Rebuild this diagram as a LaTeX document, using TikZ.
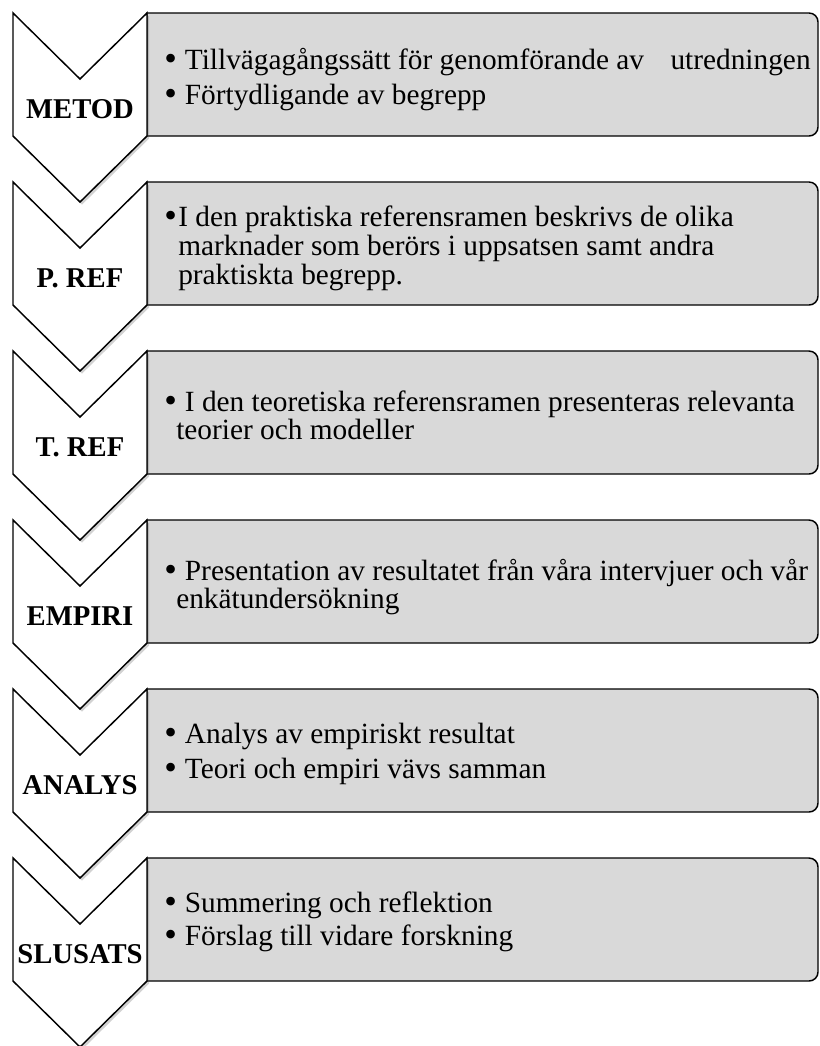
\documentclass[tikz,border=0pt]{standalone}
\usepackage{fontspec}
\setmainfont{Liberation Serif}
\usetikzlibrary{shadows}
\definecolor{panelgray}{HTML}{D9D9D9}
\newcommand\bul[1]{\makebox[#1][l]{\smash{\raisebox{-1pt}{\fontsize{27}{27}\selectfont\textbullet}}}}
\begin{document}
\begin{tikzpicture}[x=0.75pt,y=-0.75pt,
  chev/.style={draw=black, line width=1.1pt, fill=white, line join=miter,
    drop shadow={shadow xshift=1.5pt, shadow yshift=-2pt, opacity=0.25, fill=black!70}},
  panel/.style={draw=black, line width=1.1pt, fill=panelgray},
  lab/.style={font=\fontsize{21.5}{24}\selectfont\bfseries, inner sep=0pt, anchor=base},
  txt/.style={font=\fontsize{22}{24}\selectfont, inner sep=0pt, anchor=base west}
]
\useasboundingbox (0,0) rectangle (819,1046);
\fill[white] (0,0) rectangle (819,1046);
\foreach \t/\lab/\nm in {13/METOD/a,182/{P. REF}/b,351/{T. REF}/c,520/EMPIRI/d,689/ANALYS/e,858/SLUSATS/f}{
  \draw[panel] (147,\t) -- (809,\t) .. controls (814,\t) and (818,\t+4) .. (818,\t+9)
    -- (818,\t+114) .. controls (818,\t+119) and (814,\t+123) .. (809,\t+123)
    -- (147,\t+123) -- cycle;
  \draw[chev] (13,\t) -- (80,\t+66) -- (147,\t) -- (147,\t+123) -- (80,\t+189) -- (13,\t+123) -- cycle;
  \node[lab] (lab-\nm) at (80,\t+105) {\lab};
}
\node[txt] (txt-a) at (164,69) {\parbox[t]{645pt}{\baselineskip=26.25pt
  \bul{15.5pt}Tillvägagångssätt för genomförande av\hspace{0.9em}utredningen\\
  \bul{15.5pt}Förtydligande av begrepp}};
\node[txt] (txt-b) at (164,226) {\parbox[t]{645pt}{\baselineskip=21.75pt
  \bul{10.5pt}I den praktiska referensramen beskrivs de olika\\
  \hspace*{10.5pt}marknader som berörs i uppsatsen samt andra\\
  \hspace*{10.5pt}praktiskta begrepp.}};
\node[txt] (txt-c) at (164,411) {\parbox[t]{645pt}{\baselineskip=21pt
  \bul{15.5pt}I den teoretiska referensramen presenteras relevanta\\
  \hspace*{9pt}teorier och modeller}};
\node[txt] (txt-d) at (164,580) {\parbox[t]{645pt}{\baselineskip=21pt
  \bul{15.5pt}Presentation av resultatet från våra intervjuer och vår\\
  \hspace*{9pt}enkätundersökning}};
\node[txt] (txt-e) at (164,743) {\parbox[t]{645pt}{\baselineskip=26.25pt
  \bul{15.5pt}Analys av empiriskt resultat\\
  \bul{15.5pt}Teori och empiri vävs samman}};
\node[txt] (txt-f) at (164,912) {\parbox[t]{645pt}{\baselineskip=25pt
  \bul{15.5pt}Summering och reflektion\\
  \bul{15.5pt}Förslag till vidare forskning}};
\end{tikzpicture}
\end{document}
